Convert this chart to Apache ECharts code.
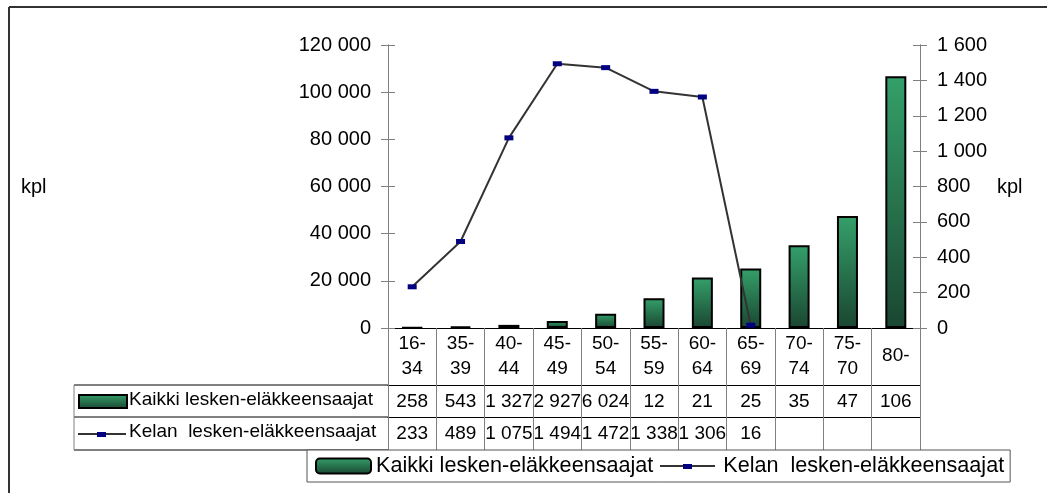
<!DOCTYPE html>
<html>
<head>
<meta charset="utf-8">
<script src="https://cdn.jsdelivr.net/npm/echarts@6/dist/echarts.min.js"></script>
<style>
html,body{margin:0;padding:0;background:#fff;}
#c{width:1047px;height:493px;}
</style>
</head>
<body>
<div id="c"></div>
<script>
// ---- data ----
var categories = ['16-34','35-39','40-44','45-49','50-54','55-59','60-64','65-69','70-74','75-70','80-'];
var kaikkiValues = [258, 543, 1327, 2927, 6024, 12600, 21400, 25200, 35100, 47500, 106700];
var kelaValues = [233, 489, 1075, 1494, 1472, 1338, 1306, 16, null, null, null];
var kaikkiLabels = ['258','543','1 327','2 927','6 024','12','21','25','35','47','106'];
var kelaLabels = ['233','489','1 075','1 494','1 472','1 338','1 306','16','','',''];
var leftTicks = {min: 0, max: 120000, interval: 20000};
var rightTicks = {min: 0, max: 1600, interval: 200};
var seriesNames = ['Kaikki lesken-eläkkeensaajat', 'Kelan  lesken-eläkkeensaajat'];

var FONT = '"Liberation Sans", Arial, sans-serif';
function spaced(v){ return String(v).replace(/\B(?=(\d{3})+(?!\d))/g, ' '); }
function catLabel(v){
  var i = v.indexOf('-');
  if (i >= 0 && i < v.length - 1) return v.slice(0, i + 1) + '\n' + v.slice(i + 1);
  return v;
}
function makeGradient(){
  return new echarts.graphic.LinearGradient(0, 0, 0, 1, [
    {offset: 0, color: '#34a06a'},
    {offset: 1, color: '#1a4631'}
  ]);
}

var chart = echarts.init(document.getElementById('c'), null, {renderer: 'canvas'});

function yAxisBase(t, pos, inside, showLabel){
  return {
    type: 'value', position: pos, min: t.min, max: t.max, interval: t.interval,
    splitLine: {show: false},
    axisLine: {show: true, lineStyle: {color: '#808080', width: 1}},
    axisTick: {show: true, inside: inside, length: 7, lineStyle: {color: '#808080'}},
    axisLabel: {show: showLabel, formatter: spaced, color: '#000', fontFamily: FONT, fontSize: 20, margin: 17}
  };
}

function tableAxis(offset, labels, showLine){
  return {
    type: 'category', data: categories, position: 'bottom', offset: offset,
    axisLine: {show: showLine, onZero: false, lineStyle: {color: '#000', width: 1}},
    axisTick: {show: false},
    axisLabel: {
      show: !!labels, interval: 0, margin: 17, verticalAlign: 'middle',
      color: '#000', fontFamily: FONT, fontSize: 19,
      formatter: function(v, i){ return labels ? labels[i] : ''; }
    }
  };
}

var option = {
  animation: false,
  backgroundColor: '#fff',
  grid: {left: 388, right: 127, top: 45, bottom: 165, containLabel: false},
  legend: {
    left: 307, top: 450,
    data: [
      {name: seriesNames[0]},
      {name: seriesNames[1], icon: 'rect', itemStyle: {color: 'rgba(0,0,0,0)', borderWidth: 0}}
    ],
    itemWidth: 55, itemHeight: 15, itemGap: 10,
    padding: [5, 6, 5, 8],
    borderColor: '#555', borderWidth: 1, backgroundColor: '#fff',
    textStyle: {color: '#000', fontFamily: FONT, fontSize: 21.6}
  },
  xAxis: [
    {
      type: 'category', data: categories, position: 'bottom',
      axisLine: {show: true, onZero: false, lineStyle: {color: '#000', width: 1}},
      axisTick: {show: true, interval: 0, length: 122, lineStyle: {color: '#808080'}},
      axisLabel: {
        interval: 0, margin: 28, verticalAlign: 'middle', lineHeight: 25,
        color: '#000', fontFamily: FONT, fontSize: 19, formatter: catLabel
      }
    },
    tableAxis(57, kaikkiLabels, true),
    tableAxis(89, kelaLabels, true),
    tableAxis(122, null, true)
  ],
  yAxis: [
    yAxisBase(leftTicks, 'left', false, true),
    yAxisBase(rightTicks, 'right', false, true),
    yAxisBase(leftTicks, 'left', true, false),
    yAxisBase(rightTicks, 'right', true, false)
  ],
  series: [
    {
      name: seriesNames[0], type: 'bar', xAxisIndex: 0, yAxisIndex: 0,
      data: kaikkiValues, barWidth: 21,
      itemStyle: {color: makeGradient(), borderColor: '#000', borderWidth: 2}
    },
    {
      name: seriesNames[1], type: 'line', xAxisIndex: 0, yAxisIndex: 1,
      data: kelaValues, symbol: 'rect', symbolSize: [9, 5], showAllSymbol: true,
      connectNulls: false,
      lineStyle: {color: '#333', width: 2},
      itemStyle: {color: '#000080', borderWidth: 0}
    }
  ],
  graphic: [
    // outer frame
    {type: 'line', z: 10, shape: {x1: 9, y1: 7, x2: 1047, y2: 7}, style: {stroke: '#333', lineWidth: 2}},
    {type: 'line', z: 10, shape: {x1: 9, y1: 7, x2: 9, y2: 493}, style: {stroke: '#333', lineWidth: 2}},
    // unit labels
    {type: 'text', left: 21, top: 177, style: {text: 'kpl', fill: '#000', font: '20px ' + FONT}},
    {type: 'text', left: 997, top: 177, style: {text: 'kpl', fill: '#000', font: '20px ' + FONT}},
    // table header column
    {type: 'line', shape: {x1: 74, y1: 385, x2: 388, y2: 385}, style: {stroke: '#000', lineWidth: 1}},
    {type: 'line', shape: {x1: 74, y1: 417, x2: 388, y2: 417}, style: {stroke: '#000', lineWidth: 1}},
    {type: 'line', shape: {x1: 74, y1: 450, x2: 388, y2: 450}, style: {stroke: '#000', lineWidth: 1}},
    {type: 'line', shape: {x1: 74, y1: 385, x2: 74, y2: 450}, style: {stroke: '#808080', lineWidth: 1}},
    {type: 'rect', shape: {x: 79, y: 395, width: 48, height: 13},
      style: {fill: makeGradient(), stroke: '#000', lineWidth: 2}},
    {type: 'text', left: 129, top: 390, style: {text: seriesNames[0], fill: '#000', font: '19px ' + FONT}},
    {type: 'line', shape: {x1: 78, y1: 434, x2: 126, y2: 434}, style: {stroke: '#333', lineWidth: 2}},
    {type: 'rect', shape: {x: 97, y: 432, width: 9, height: 5}, style: {fill: '#000080'}},
    {type: 'text', left: 129, top: 422, style: {text: seriesNames[1], fill: '#000', font: '19px ' + FONT}},
    // legend line-series key (thin line with small marker)
    {type: 'line', z: 10, shape: {x1: 660, y1: 466, x2: 715, y2: 466}, style: {stroke: '#333', lineWidth: 2}},
    {type: 'rect', z: 11, shape: {x: 683, y: 464, width: 9, height: 5}, style: {fill: '#000080'}}
  ]
};
chart.setOption(option);
</script>
</body>
</html>
